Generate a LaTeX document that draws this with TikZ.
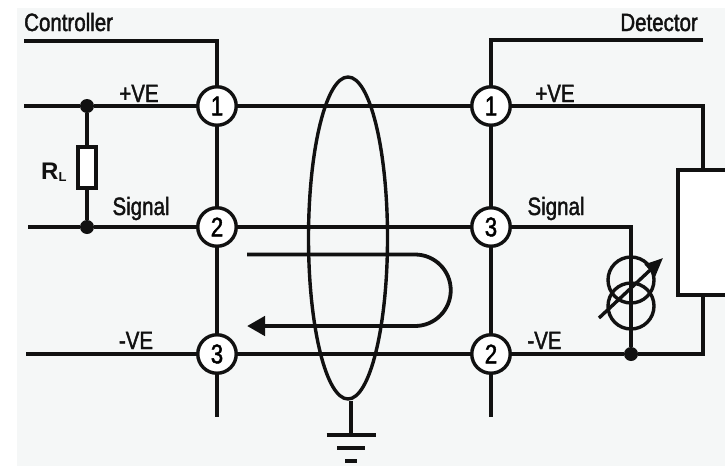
\documentclass[tikz,border=0pt]{standalone}
\usepackage{fontspec}
\setmainfont[FakeStretch=0.82,FakeBold=1.6]{Liberation Sans}
\newfontfamily\boldlabel{Liberation Sans}[BoldFont={Liberation Sans Bold}]
\usepackage{tikz}
\usetikzlibrary{arrows.meta}
\usetikzlibrary{shapes.geometric}
\definecolor{panelgrey}{HTML}{F5F7F7}
\definecolor{inkblack}{HTML}{111111}
\tikzset{
dot/.style = {circle, fill=inkblack, minimum size=#1,
              inner sep=0pt, outer sep=0pt},
dot/.default = 14pt % size of the circle diameter
}
\tikzset{
pin/.style = {circle, draw=inkblack, fill=white, line width=3.4pt, minimum size=38.5pt,
              inner sep=0pt, font=\fontsize{27}{27}\selectfont}
}
\tikzset{
box/.style = {rectangle, draw=inkblack, fill=white, line width=3.4pt, inner sep=0pt}
}
\tikzset{
wire/.style = {draw=inkblack, line width=3.4pt},
tag/.style = {text=inkblack, inner sep=0pt, font=\fontsize{25}{25}\selectfont}
}

\begin{document}
\begin{tikzpicture}[x=1pt, y=-1pt]
\useasboundingbox (0,0) rectangle (725,466);
\fill[panelgrey] (17,8) rectangle (725,466);

    \node[pin] (contA) at (217,106) {1};
    \node[pin] (contB) at (217,227) {2};
    \node[pin] (contC) at (217,354) {3};
    \node[pin] (detA) at (491,106) {1};
    \node[pin] (detC) at (491,227) {3};
    \node[pin] (detB) at (491,354) {2};

    \node[dot] (topDot) at (87,106) {};
    \node[dot] (midDot) at (87,227) {};
    \node[dot] (lowDot) at (631,354) {};
    \node[box, minimum width=18pt, minimum height=41pt] (load) at (87,167.5) {};
    \node[box, minimum width=70pt, minimum height=125pt] (unit) at (713,232.5) {};
    \node[circle, draw=inkblack, line width=3.4pt, minimum size=46pt, inner sep=0pt] (coilA) at (631,280) {};
    \node[circle, draw=inkblack, line width=3.4pt, minimum size=46pt, inner sep=0pt] (coilB) at (631,306) {};
    \node[ellipse, draw=inkblack, line width=3.4pt, minimum width=79pt, minimum height=322pt, inner sep=0pt] (shield) at (348,238) {};

\node[tag, anchor=base west] (ctrlText) at (24,31) {Controller};
\node[tag, anchor=base east] (detText) at (698,31) {Detector};
\node[tag, anchor=base] (plusA) at (139,102) {+VE};
\node[tag, anchor=base] (plusB) at (555,102) {+VE};
\node[tag, anchor=base] (sigA) at (141,215) {Signal};
\node[tag, anchor=base] (sigB) at (556,215) {Signal};
\node[tag, anchor=base] (negA) at (136,349) {-VE};
\node[tag, anchor=base] (negB) at (544.5,349) {-VE};
\node[text=inkblack, inner sep=0pt, anchor=base west] (loadText) at (41,179) {\boldlabel\fontsize{24}{24}\selectfont\bfseries R\fontsize{13}{13}\selectfont\raisebox{-2pt}{L}};

\coordinate (ctrlEnd) at (24,41);
\coordinate (ctrlCorner) at (217,41);
\coordinate (detEnd) at (703,40);
\coordinate (detCorner) at (491,40);
\coordinate (plusEnd) at (24,106);
\coordinate (sigEnd) at (28,227);
\coordinate (negEnd) at (26,354);
\coordinate (contEnd) at (217,417);
\coordinate (detFoot) at (491,417);
\coordinate (plusCorner) at (703,106);
\coordinate (negCorner) at (703,354);
\coordinate (sigCorner) at (631,227);
\coordinate (trimStart) at (599,318);
\coordinate (trimEnd) at (663,258);
\coordinate (earth) at (351,435);
\coordinate (loopTop) at (247,254.5);
\coordinate (loopLow) at (247,326);

\draw[wire] (ctrlEnd) -- (ctrlCorner) -- (contA);
\draw[wire] (detEnd) -- (detCorner) -- (detA);
\draw[wire] (plusEnd) -- (topDot) -- (contA) -- (detA) -- (plusCorner) -- (plusCorner |- unit.north);
\draw[wire] (sigEnd) -- (midDot) -- (contB) -- (detC) -- (sigCorner) -- (lowDot);
\draw[wire] (negEnd) -- (contC) -- (detB) -- (lowDot) -- (negCorner) -- (negCorner |- unit.south);
\draw[wire] (topDot) -- (load);
\draw[wire] (load) -- (midDot);
\draw[wire] (contA) -- (contB);
\draw[wire] (contB) -- (contC);
\draw[wire] (contC) -- (contEnd);
\draw[wire] (detA) -- (detC);
\draw[wire] (detC) -- (detB);
\draw[wire] (detB) -- (detFoot);
\draw[wire, -{Triangle[length=18pt,width=15pt]}] (trimStart) -- (trimEnd);
\draw[wire] (shield.south) ++(3,0) coordinate (shieldFoot) -- (earth);
\draw[wire] (earth) ++(-24.5,0) coordinate (earthA) -- ++(49,0) coordinate (earthB);
\draw[wire] (earth) ++(-14,13) coordinate (earthC) -- ++(28,0) coordinate (earthD);
\draw[wire] (earth) ++(-6,26) coordinate (earthE) -- ++(12,0) coordinate (earthF);

\draw[draw=inkblack, line width=3.8pt] (loopTop) -- (415,254.5) arc[start angle=-90, end angle=90, radius=35.75];
\draw[draw=inkblack, line width=4.8pt, -{Triangle[length=18pt,width=19pt]}] (415,326) -- (loopLow);
\end{tikzpicture}
\end{document}
